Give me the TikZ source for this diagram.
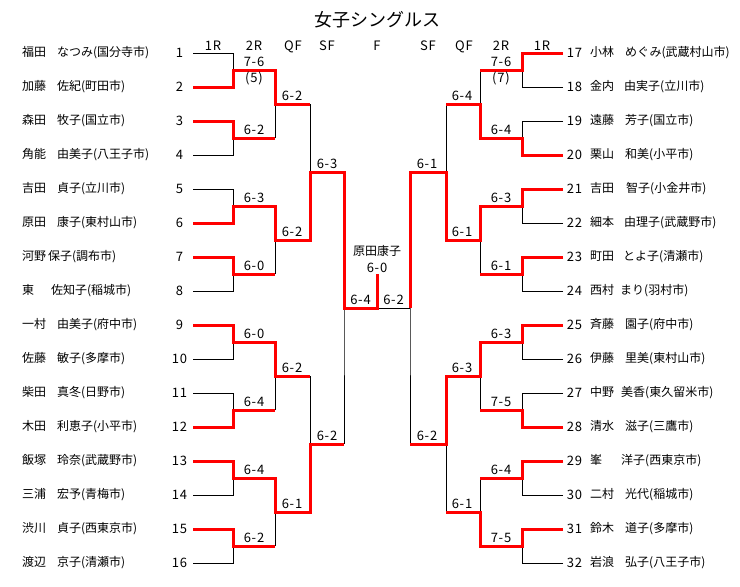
\documentclass[tikz,border=0pt]{standalone}
\usepackage{fontspec}
\newfontfamily\jp{Noto Sans CJK JP}
\newfontfamily\jpd[LetterSpace=6]{Noto Sans CJK JP}
\begin{document}
\begin{tikzpicture}[x=1pt,y=-1pt,
  br/.style={line width=1pt,black},
  win/.style={line width=3pt,red,line join=miter},
  txt/.style={font=\jp\fontsize{12}{12}\selectfont,inner sep=0pt},
  dig/.style={font=\jpd\fontsize{13}{13}\selectfont,inner sep=0pt},
  sc/.style={dig,anchor=base},
  nm/.style={txt,anchor=west},
  num/.style={dig,anchor=center},
  rnd/.style={dig,anchor=base}]
\useasboundingbox[fill=white] (0,0) rectangle (740,587);
% title
\node[font=\jp\fontsize{18}{18}\selectfont,inner sep=0pt] (title) at (377.5,19.5) {女子シングルス};
% round labels
\node[rnd] (r1) at (213,50) {1R};
\node[rnd] (r2) at (254,50) {2R};
\node[rnd] (r3) at (293,50) {QF};
\node[rnd] (r4) at (327,50) {SF};
\node[rnd] (r5) at (377,50) {F};
\node[rnd] (r6) at (428,50) {SF};
\node[rnd] (r7) at (464,50) {QF};
\node[rnd] (r8) at (501,50) {2R};
\node[rnd] (r9) at (542,50) {1R};
% coordinates
\foreach \i in {1,...,16} {\coordinate (P\i) at (193,{53+34*(\i-1)});}
\foreach \i in {17,...,32} {\coordinate (P\i) at (563,{53+34*(\i-17)});}
\foreach \k in {1,...,8} {
  \coordinate (J\k) at (233,{70+68*(\k-1)}); \coordinate (E\k) at (275,{70+68*(\k-1)});
  \coordinate (RJ\k) at (522,{70+68*(\k-1)}); \coordinate (RE\k) at (480,{70+68*(\k-1)});}
\foreach \j in {1,...,4} {
  \coordinate (Q\j) at (275,{104+136*(\j-1)}); \coordinate (QE\j) at (310,{104+136*(\j-1)});
  \coordinate (RQ\j) at (480,{104+136*(\j-1)}); \coordinate (RQE\j) at (446,{104+136*(\j-1)});}
\coordinate (S1) at (310,172); \coordinate (SE1) at (344,172);
\coordinate (S2) at (310,444); \coordinate (SE2) at (344,444);
\coordinate (RS1) at (446,172); \coordinate (RSE1) at (410,172);
\coordinate (RS2) at (446,444); \coordinate (RSE2) at (410,444);
\coordinate (FL) at (344,308); \coordinate (FC) at (377,308);
\coordinate (FR) at (410,308); \coordinate (CH) at (377,274);
% black bracket
\foreach \i in {1,...,16} {\pgfmathtruncatemacro\k{(\i+1)/2}\draw[br] (P\i) -| (J\k) -- (E\k);}
\foreach \i in {17,...,32} {\pgfmathtruncatemacro\k{(\i-15)/2}\draw[br] (P\i) -| (RJ\k) -- (RE\k);}
\foreach \k in {1,...,8} {\pgfmathtruncatemacro\j{(\k+1)/2}
  \draw[br] (E\k) -- (Q\j) -- (QE\j);
  \draw[br] (RE\k) -- (RQ\j) -- (RQE\j);}
\foreach \j in {1,...,4} {\pgfmathtruncatemacro\l{(\j+1)/2}
  \draw[br] (QE\j) -- (S\l) -- (SE\l);
  \draw[br] (RQE\j) -- (RS\l) -- (RSE\l);}
\draw[br] (SE1) -- (FL) -- (SE2);
\draw[br] (RSE1) -- (FR) -- (RSE2);
\draw[br] (FL) -- (FR);
% winners, left
\draw[win] (P2) -| (J1) -- (E1) -- (Q1) -- (QE1);
\draw[win] (P3) -| (J2) -- (E2);
\draw[win] (P6) -| (J3) -- (E3) -- (Q2) -- (QE2) -- (S1) -- (SE1) -- (FL) -- (FC) -- (CH);
\draw[win] (P7) -| (J4) -- (E4);
\draw[win] (P9) -| (J5) -- (E5) -- (Q3) -- (QE3);
\draw[win] (P12) -| (J6) -- (E6);
\draw[win] (P13) -| (J7) -- (E7) -- (Q4) -- (QE4) -- (S2) -- (SE2);
\draw[win] (P15) -| (J8) -- (E8);
% winners, right
\draw[win] (P17) -| (RJ1) -- (RE1);
\draw[win] (P20) -| (RJ2) -- (RE2) -- (RQ1) -- (RQE1);
\draw[win] (P21) -| (RJ3) -- (RE3) -- (RQ2) -- (RQE2) -- (RS1) -- (RSE1) -- (FR);
\draw[win] (P23) -| (RJ4) -- (RE4);
\draw[win] (P25) -| (RJ5) -- (RE5) -- (RQ3) -- (RQE3) -- (RS2) -- (RSE2);
\draw[win] (P28) -| (RJ6) -- (RE6);
\draw[win] (P29) -| (RJ7) -- (RE7);
\draw[win] (P31) -| (RJ8) -- (RE8) -- (RQ4) -- (RQE4);
% scores left
\foreach \s [count=\k] in {7-6,6-2,6-3,6-0,6-0,6-4,6-4,6-2}
  {\node[sc] (ls2r\k) at (254,{70+68*(\k-1)-3.5}) {\s};}
\foreach \s [count=\j] in {6-2,6-2,6-2,6-1}
  {\node[sc] (lsqf\j) at (292,{104+136*(\j-1)-3.5}) {\s};}
\node[sc] (lssf1) at (327,168.5) {6-3};
\node[sc] (lssf2) at (327,440.5) {6-2};
\node[dig] (l5) at (254,78) {(5)};
% scores right
\foreach \s [count=\k] in {7-6,6-4,6-3,6-1,6-3,7-5,6-4,7-5}
  {\node[sc] (rs2r\k) at (501,{70+68*(\k-1)-3.5}) {\s};}
\foreach \s [count=\j] in {6-4,6-1,6-3,6-1}
  {\node[sc] (rsqf\j) at (462,{104+136*(\j-1)-3.5}) {\s};}
\node[sc] (rssf1) at (427,168.5) {6-1};
\node[sc] (rssf2) at (427,440.5) {6-2};
\node[dig] (r7b) at (501,78) {(7)};
% final
\node[sc] (fl) at (360.5,304.5) {6-4};
\node[sc] (fr) at (393.5,304.5) {6-2};
\node[txt] (champ) at (377,251) {原田康子};
\node[dig] (champs) at (377,267.5) {6-0};
% left players
\foreach \nm [count=\i] in {
  福田\hspace{11pt}なつみ(国分寺市),
  加藤\hspace{11pt}佐紀(町田市),
  森田\hspace{11pt}牧子(国立市),
  角能\hspace{11pt}由美子(八王子市),
  吉田\hspace{11pt}貞子(立川市),
  原田\hspace{11pt}康子(東村山市),
  河野\hspace{2pt}保子(調布市),
  東\hspace{17pt}佐知子(稲城市),
  一村\hspace{11pt}由美子(府中市),
  佐藤\hspace{11pt}敏子(多摩市),
  柴田\hspace{11pt}真冬(日野市),
  木田\hspace{11pt}利恵子(小平市),
  飯塚\hspace{11pt}玲奈(武蔵野市),
  三浦\hspace{11pt}宏予(青梅市),
  渋川\hspace{11pt}貞子(西東京市),
  渡辺\hspace{11pt}京子(清瀬市)}
  {\node[nm] (n\i) at (22,{53+34*(\i-1)}) {\nm};
   \node[num] (k\i) at (179.5,{53+34*(\i-1)}) {\i};}
% right players
\foreach \nm [count=\i from 17] in {
  小林\hspace{11pt}めぐみ(武蔵村山市),
  金内\hspace{10pt}由実子(立川市),
  遠藤\hspace{11pt}芳子(国立市),
  栗山\hspace{11pt}和美(小平市),
  吉田\hspace{12pt}智子(小金井市),
  細本\hspace{10pt}由理子(武蔵野市),
  町田\hspace{9pt}とよ子(清瀬市),
  西村\hspace{6pt}まり(羽村市),
  斉藤\hspace{11pt}園子(府中市),
  伊藤\hspace{11pt}里美(東村山市),
  中野\hspace{7pt}美香(東久留米市),
  清水\hspace{11pt}滋子(三鷹市),
  峯\hspace{19pt}洋子(西東京市),
  二村\hspace{11pt}光代(稲城市),
  鈴木\hspace{11pt}道子(多摩市),
  岩浪\hspace{11pt}弘子(八王子市)}
  {\node[nm] (n\i) at (590,{53+34*(\i-17)}) {\nm};
   \node[num] (k\i) at (574.5,{53+34*(\i-17)}) {\i};}
\end{tikzpicture}
\end{document}
